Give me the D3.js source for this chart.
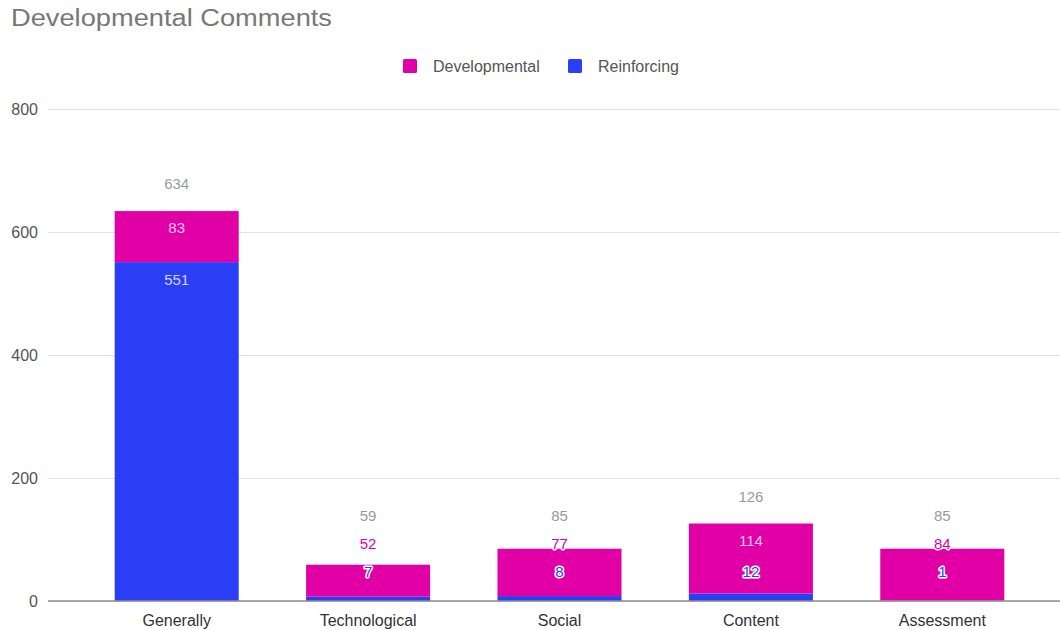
<!DOCTYPE html>
<html>
<head>
<meta charset="utf-8">
<script src="https://cdn.jsdelivr.net/npm/d3@7"></script>
<style>
  html, body { margin: 0; padding: 0; background: #ffffff; }
  svg { display: block; font-family: "Liberation Sans", Arial, sans-serif; }
</style>
</head>
<body>
<svg id="chart" width="1060" height="630"></svg>
<script>
// Comment categories and counts per series
const categories = ["Generally", "Technological", "Social", "Content", "Assessment"];
const reinforcing = [551, 7, 8, 12, 1];
const developmental = [83, 52, 77, 114, 84];
const totals = [634, 59, 85, 126, 85];
const seriesNames = ["Reinforcing", "Developmental"];
const legendOrder = ["Developmental", "Reinforcing"];
const yTicks = [0, 200, 400, 600, 800];
const titleText = "Developmental Comments";

const colors = { Developmental: "#e000a6", Reinforcing: "#2a3ef5" };

const svg = d3.select("#chart");
const W = 1060, H = 630;
const plot = { left: 48, right: 1060, top: 109, bottom: 601 };

const rows = categories.map((c, i) => ({
  category: c,
  Reinforcing: reinforcing[i],
  Developmental: developmental[i],
  total: totals[i]
}));

const x = d3.scaleBand()
  .domain(categories)
  .range([81, 1038])
  .paddingInner(0.352)
  .paddingOuter(0.176);

const y = d3.scaleLinear()
  .domain([0, 800])
  .range([plot.bottom, plot.top]);

// Title
svg.append("text")
  .attr("x", 11)
  .attr("y", 26)
  .attr("font-size", 23)
  .attr("fill", "#777777")
  .attr("textLength", 321)
  .attr("lengthAdjust", "spacingAndGlyphs")
  .text(titleText);

// Legend
const legendX = [403, 568];
const legend = svg.append("g");
legendOrder.forEach((name, i) => {
  const g = legend.append("g").attr("transform", `translate(${legendX[i]},59)`);
  g.append("rect").attr("width", 14).attr("height", 14).attr("rx", 1.5)
    .attr("fill", colors[name]);
  g.append("text").attr("x", 30).attr("y", 12.5)
    .attr("font-size", 16).attr("fill", "#555555").text(name);
});

// Horizontal gridlines and y tick labels
const yAxis = d3.axisLeft(y).tickValues(yTicks).tickSize(-(plot.right - plot.left)).tickPadding(10);
const yg = svg.append("g").attr("transform", `translate(${plot.left},0)`).call(yAxis);
yg.select(".domain").remove();
yg.selectAll(".tick line").attr("stroke", "#e2e2e2").attr("stroke-width", 1);
yg.selectAll(".tick text")
  .attr("font-size", 16)
  .attr("font-family", "Liberation Sans, Arial, sans-serif")
  .attr("fill", "#555555");

// Stacked bars
const stack = d3.stack().keys(seriesNames);
const layers = stack(rows);

svg.append("g").selectAll("g")
  .data(layers)
  .join("g")
  .attr("fill", d => colors[d.key])
  .selectAll("rect")
  .data(d => d)
  .join("rect")
  .attr("x", d => x(d.data.category))
  .attr("width", x.bandwidth())
  .attr("y", d => y(d[1]))
  .attr("height", d => y(d[0]) - y(d[1]));

// Baseline
svg.append("line")
  .attr("x1", plot.left).attr("x2", plot.right)
  .attr("y1", y(0)).attr("y2", y(0))
  .attr("stroke", "#8c8c8c").attr("stroke-width", 1.5);

// Category labels
const xAxis = d3.axisBottom(x).tickSize(0).tickPadding(14);
const xg = svg.append("g").attr("transform", `translate(0,${y(0)})`).call(xAxis);
xg.select(".domain").remove();
xg.selectAll(".tick text")
  .attr("font-size", 16)
  .attr("font-family", "Liberation Sans, Arial, sans-serif")
  .attr("fill", "#333333");

// Data labels: segments stacked bottom-up, each kept clear of the one below it
const labelGap = 28;
const maxLabelY = y(0) - 29;
const labelHalf = 7;
const labels = [];
rows.forEach((r, i) => {
  let prev = Infinity;
  layers.forEach(layer => {
    const seg = layer[i];
    const top = y(seg[1]), bottom = y(seg[0]);
    let ly = Math.min(top + 17, maxLabelY, prev - labelGap);
    const inside = (ly - labelHalf >= top) && (ly + labelHalf <= bottom);
    labels.push({ cx: x(r.category) + x.bandwidth() / 2, y: ly, value: seg.data[layer.key], key: layer.key, inside, total: false });
    prev = ly;
  });
  const ty = Math.min(y(r.total) - 27, prev - labelGap);
  labels.push({ cx: x(r.category) + x.bandwidth() / 2, y: ty, value: r.total, key: null, inside: false, total: true });
});

svg.append("g").selectAll("text")
  .data(labels)
  .join("text")
  .attr("x", d => d.cx)
  .attr("y", d => d.y)
  .attr("dy", "0.36em")
  .attr("text-anchor", "middle")
  .attr("font-size", 15)
  .attr("fill", d => d.total ? "#9a9a9a" : (d.inside ? "#ffffff" : colors[d.key]))
  .attr("fill-opacity", d => d.inside ? 0.78 : 1)
  .attr("stroke", d => (!d.total && !d.inside) ? "#ffffff" : "none")
  .attr("stroke-width", 3)
  .attr("stroke-linejoin", "round")
  .attr("paint-order", "stroke")
  .text(d => d.value);
</script>
</body>
</html>
